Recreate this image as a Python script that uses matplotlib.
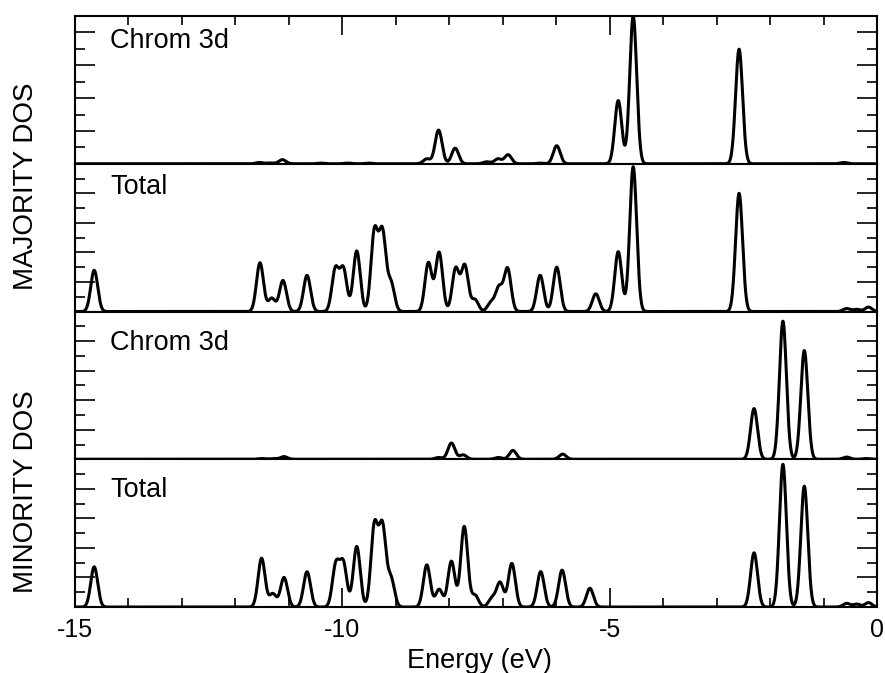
import numpy as np
import matplotlib
matplotlib.use('Agg')
import matplotlib.pyplot as plt
from matplotlib.ticker import MultipleLocator

plt.rcParams['font.family'] = ['Liberation Sans', 'DejaVu Sans']
plt.rcParams['axes.unicode_minus'] = False

# peak positions (eV) and heights of each projected DOS
maj_cr3d_e = [-11.55, -11.35, -11.12, -10.4, -9.9, -9.5, -8.42, -8.20, -7.89,
              -7.30, -7.09, -6.90, -6.30, -5.99, -4.84, -4.56, -2.58, -0.62]
maj_cr3d_h = [0.08, 0.05, 0.25, 0.04, 0.04, 0.04, 0.3, 2.05, 0.95,
              0.12, 0.3, 0.55, 0.04, 1.1, 3.85, 9.0, 6.98, 0.08]

maj_total_e = [-14.64, -11.54, -11.32, -11.11, -10.66, -10.13, -9.98, -9.73,
               -9.40, -9.25, -9.09, -8.39, -8.19, -7.88, -7.71, -7.52, -7.22,
               -7.07, -6.91, -6.30, -5.99, -5.26, -4.84, -4.56, -2.58,
               -0.57, -0.38, -0.16]
maj_total_h = [2.79, 3.3, 0.9, 2.1, 2.45, 2.85, 2.85, 4.1,
               5.35, 5.25, 1.9, 3.3, 4.0, 2.9, 3.1, 0.8, 0.6,
               1.6, 2.9, 2.45, 3.0, 1.2, 4.05, 9.8, 8.0,
               0.2, 0.15, 0.3]

min_cr3d_e = [-11.51, -11.29, -11.09, -8.20, -7.96, -7.74, -7.08, -6.81,
              -5.88, -2.30, -1.76, -1.36, -0.57, -0.20]
min_cr3d_h = [0.05, 0.05, 0.18, 0.12, 1.1, 0.3, 0.12, 0.6,
              0.35, 3.43, 9.35, 7.36, 0.15, 0.05]

min_total_e = [-14.64, -11.51, -11.30, -11.09, -10.66, -10.12, -9.98, -9.73,
               -9.40, -9.25, -9.09, -8.42, -8.19, -7.96, -7.72, -7.52, -7.20,
               -7.05, -6.83, -6.29, -5.89, -5.37, -2.30, -1.76, -1.36,
               -0.57, -0.38, -0.16]
min_total_h = [2.72, 3.3, 0.9, 2.0, 2.39, 2.85, 2.9, 4.1,
               5.45, 5.35, 1.9, 2.85, 1.2, 3.1, 5.45, 0.8, 0.6,
               1.65, 2.95, 2.4, 2.5, 1.27, 3.67, 9.66, 8.18,
               0.25, 0.2, 0.3]

panel_peaks = [(maj_cr3d_e, maj_cr3d_h), (maj_total_e, maj_total_h),
               (min_cr3d_e, min_cr3d_h), (min_total_e, min_total_h)]
panel_labels = ['Chrom 3d', 'Total', 'Chrom 3d', 'Total']
panel_label_y = [0.83, 0.84, 0.79, 0.79]
panel_ymax = [9, 10, 10, 10]
x_ticks = [-15, -10, -5, 0]

SIGMA = 0.065
energy = np.linspace(-15, 0, 3001)


def broaden(centres, heights):
    dos = np.zeros_like(energy)
    for c, h in zip(centres, heights):
        dos += h * np.exp(-0.5 * ((energy - c) / SIGMA) ** 2)
    return dos


fig, axes = plt.subplots(4, 1, sharex=True, figsize=(8.85, 6.73), dpi=100)
fig.subplots_adjust(left=0.0847, right=0.991, top=0.9762, bottom=0.098, hspace=0)

for i, ax in enumerate(axes):
    e, h = panel_peaks[i]
    ax.plot(energy, broaden(e, h), color='black', lw=2.2)
    ax.set_xlim(-15, 0)
    ax.set_ylim(0, panel_ymax[i])
    ax.yaxis.set_major_locator(MultipleLocator(2))
    ax.yaxis.set_minor_locator(MultipleLocator(1))
    ax.xaxis.set_major_locator(MultipleLocator(5))
    ax.xaxis.set_minor_locator(MultipleLocator(1))
    ax.tick_params(axis='y', which='both', direction='in', left=True, right=True,
                   labelleft=False, width=1.2)
    ax.tick_params(axis='y', which='major', length=14.4)
    ax.tick_params(axis='y', which='minor', length=7.2)
    ax.tick_params(axis='x', which='both', direction='in', top=(i == 0),
                   bottom=(i == 3), labelbottom=(i == 3), width=1.2,
                   labelsize=18, pad=8)
    ax.tick_params(axis='x', which='major', length=13.7)
    ax.tick_params(axis='x', which='minor', length=6.5)
    for s in ax.spines.values():
        s.set_linewidth(1.5)
    ax.text(0.044, panel_label_y[i], panel_labels[i], transform=ax.transAxes,
            fontsize=19.5, ha='left', va='center')

axes[3].set_xticks(x_ticks)
axes[3].set_xticklabels([str(t) for t in x_ticks])

fig.text(26 / 885, 1 - 186 / 673, 'MAJORITY DOS', rotation=90,
         ha='center', va='center', fontsize=20)
fig.text(26 / 885, 1 - 492 / 673, 'MINORITY DOS', rotation=90,
         ha='center', va='center', fontsize=20)
fig.text(479 / 885, 1 - 661 / 673, 'Energy (eV)', ha='center', va='center',
         fontsize=19.5)

fig.savefig('out.png', dpi=100)
